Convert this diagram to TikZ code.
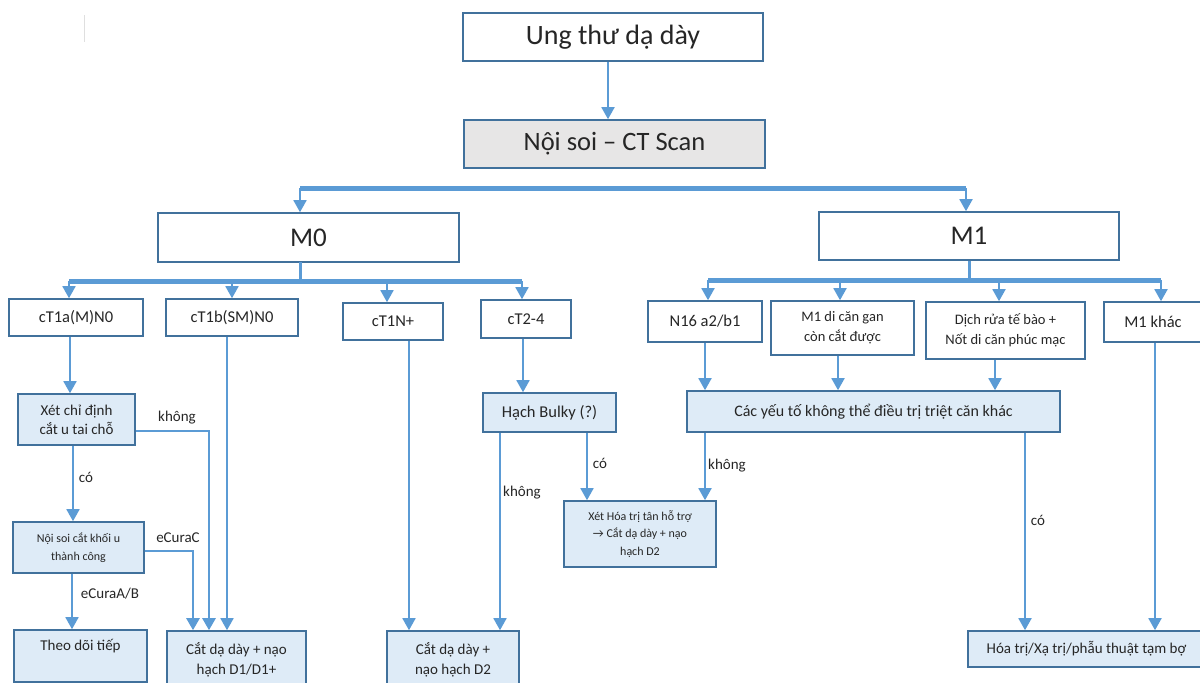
\documentclass[tikz,border=0pt]{standalone}
\usepackage{fontspec}
\setmainfont{Carlito}
\usetikzlibrary{arrows.meta}
\definecolor{edgeblue}{HTML}{41719C}
\definecolor{arrowblue}{HTML}{5B9BD5}
\definecolor{fillblue}{HTML}{DEEBF7}
\definecolor{fillgray}{HTML}{E7E6E6}
\definecolor{txt}{HTML}{262626}
\begin{document}
\begin{tikzpicture}[x=1pt,y=-1pt,
  box/.style={draw=edgeblue,line width=1.6pt,fill=white,text=txt,align=center,inner sep=2pt},
  stepbox/.style={box,fill=fillblue},
  arr/.style={draw=arrowblue,line width=1.8pt,-{Triangle[width=13pt,length=12pt]}},
  bus/.style={draw=arrowblue,line width=5pt},
  lbl/.style={text=txt,font=\fontsize{15}{18}\selectfont}]
\useasboundingbox (0,0) rectangle (1200,683);
\draw[gray!25,line width=0.6pt] (84,15) -- (84,42);

% top
\node[box,minimum width=300pt,minimum height=48pt,font=\fontsize{28}{32}\selectfont] (ung) at (613,37) {Ung thư dạ dày};
\node[box,fill=fillgray,minimum width=301pt,minimum height=48pt,font=\fontsize{26.5}{30}\selectfont] (noisoi) at (614.5,144) {Nội soi – CT Scan};
\node[box,minimum width=301pt,minimum height=49pt,font=\fontsize{27}{32}\selectfont] (M0) at (308.5,237.5) {M0};
\node[box,minimum width=300pt,minimum height=48pt,font=\fontsize{27}{32}\selectfont] (M1) at (969,236) {M1};

% M0 branch
\node[box,minimum width=134pt,minimum height=37pt,font=\fontsize{16.5}{20}\selectfont] (cT1a) at (76,317.5) {cT1a(M)N0};
\node[box,minimum width=132pt,minimum height=37pt,font=\fontsize{16.5}{20}\selectfont] (cT1b) at (232,317.5) {cT1b(SM)N0};
\node[box,minimum width=100pt,minimum height=37pt,font=\fontsize{16.5}{20}\selectfont] (cT1N) at (393,321.5) {cT1N+};
\node[box,minimum width=90pt,minimum height=38pt,font=\fontsize{16.5}{20}\selectfont] (cT24) at (526,319) {cT2-4};
\node[stepbox,minimum width=117pt,minimum height=51pt,font=\fontsize{15}{19}\selectfont] (xetcd) at (76.5,419.5) {Xét chỉ định\\cắt u tai chỗ};
\node[stepbox,minimum width=131pt,minimum height=51pt,font=\fontsize{12}{18}\selectfont] (noisoicat) at (78.5,547.5) {Nội soi cắt khối u\\thành công};
\node[stepbox,minimum width=133pt,minimum height=52pt,text depth=22pt,font=\fontsize{15}{19}\selectfont] (theodoi) at (80.5,656) {Theo dõi tiếp};
\node[stepbox,minimum width=139pt,minimum height=58pt,font=\fontsize{15}{20}\selectfont] (catD1) at (236.5,660) {Cắt dạ dày + nạo\\hạch D1/D1+};
\node[stepbox,minimum width=132pt,minimum height=58pt,font=\fontsize{15}{20}\selectfont] (catD2) at (453,660) {Cắt dạ dày +\\nạo hạch D2};
\node[stepbox,minimum width=133pt,minimum height=39pt,font=\fontsize{16.5}{20}\selectfont] (hach) at (549.5,412.5) {Hạch Bulky (?)};
\node[stepbox,minimum width=152pt,minimum height=66pt,font=\fontsize{12}{17.5}\selectfont] (xethoa) at (640,534) {Xét Hóa trị tân hỗ trợ\\→ Cắt dạ dày + nạo\\hạch D2};

% M1 branch
\node[box,minimum width=114pt,minimum height=41pt,font=\fontsize{16.5}{20}\selectfont] (N16) at (705,321.5) {N16 a2/b1};
\node[box,minimum width=143pt,minimum height=54pt,font=\fontsize{14.5}{20}\selectfont] (M1gan) at (842.5,328) {M1 di căn gan\\còn cắt được};
\node[box,minimum width=159pt,minimum height=57pt,font=\fontsize{14.5}{20}\selectfont] (dichrua) at (1005.5,330.5) {Dịch rửa tế bào +\\Nốt di căn phúc mạc};
\node[box,minimum width=98pt,minimum height=40pt,font=\fontsize{16.5}{20}\selectfont] (M1khac) at (1153,322) {M1 khác};
\node[stepbox,minimum width=373pt,minimum height=41pt,font=\fontsize{16}{20}\selectfont] (cacyeuto) at (873.5,411.5) {Các yếu tố không thể điều trị triệt căn khác};
\node[stepbox,minimum width=237pt,minimum height=36pt,font=\fontsize{15}{19}\selectfont] (hoatri) at (1086.5,649) {Hóa trị/Xạ trị/phẫu thuật tạm bợ};

% lanes
\coordinate (x0) at (608,0);
\coordinate (xa) at (70,0);
\coordinate (xb) at (73,0);
\coordinate (xc) at (72,0);
\coordinate (xd) at (209,0);
\coordinate (xe) at (227,0);
\coordinate (xf) at (193,0);
\coordinate (xg) at (409,0);
\coordinate (xh) at (523,0);
\coordinate (xi) at (500,0);
\coordinate (xj) at (587,0);
\coordinate (xk) at (705,0);
\coordinate (xl) at (838,0);
\coordinate (xm) at (995,0);
\coordinate (xn) at (1025,0);
\coordinate (xo) at (1155,0);
\coordinate (yk) at (0,431);
\coordinate (ye) at (0,551);

% buses
\draw[arr] (ung.south -| x0) -- (noisoi.north -| x0);
\coordinate (t0) at (300,188);
\coordinate (t1) at (966,188);
\draw[bus] (t0) -- (t1);
\draw[arr] (t0) -- (t0 |- M0.north);
\draw[arr] (t1) -- (t1 |- M1.north);

\coordinate (a1) at (69,281);
\coordinate (a2) at (232,281);
\coordinate (a3) at (387,281);
\coordinate (a4) at (522,281);
\draw[draw=arrowblue,line width=3pt] (a1 -| t0) ++(0,-19) -- (a1 -| t0);
\draw[bus] (a1) -- (a4);
\draw[arr] (a1) -- (a1 |- cT1a.north);
\draw[arr] (a2) -- (a2 |- cT1b.north);
\draw[arr] (a3) -- (a3 |- cT1N.north);
\draw[arr] (a4) -- (a4 |- cT24.north);

\coordinate (b1) at (708,280);
\coordinate (b2) at (840,280);
\coordinate (b3) at (999,280);
\coordinate (b4) at (1161,280);
\draw[draw=arrowblue,line width=3pt] (M1.south) -- (M1.south |- b1);
\draw[bus] (b1) -- (b4);
\draw[arr] (b1) -- (b1 |- N16.north);
\draw[arr] (b2) -- (b2 |- M1gan.north);
\draw[arr] (b3) -- (b3 |- dichrua.north);
\draw[arr] (b4) -- (b4 |- M1khac.north);

% M0 flow
\draw[arr] (cT1a.south -| xa) -- (xetcd.north -| xa);
\draw[arr] (xetcd.south -| xb) -- (noisoicat.north -| xb);
\draw[arr] (noisoicat.south -| xc) -- (theodoi.north -| xc);
\draw[arr,line width=2.5pt] (xetcd.east |- yk) -- (xd |- yk) -- (catD1.north -| xd);
\draw[arr] (cT1b.south -| xe) -- (catD1.north -| xe);
\draw[arr,line width=2.5pt] (noisoicat.east |- ye) -- (xf |- ye) -- (catD1.north -| xf);
\draw[arr] (cT1N.south -| xg) -- (catD2.north -| xg);
\draw[arr] (cT24.south -| xh) -- (hach.north -| xh);
\draw[arr] (hach.south -| xi) -- (catD2.north -| xi);
\draw[arr] (hach.south -| xj) -- (xethoa.north -| xj);

% M1 flow
\draw[arr] (N16.south -| xk) -- (cacyeuto.north -| xk);
\draw[arr] (M1gan.south -| xl) -- (cacyeuto.north -| xl);
\draw[arr] (dichrua.south -| xm) -- (cacyeuto.north -| xm);
\draw[arr] (cacyeuto.south -| xk) -- (xethoa.north -| xk);
\draw[arr] (cacyeuto.south -| xn) -- (hoatri.north -| xn);
\draw[arr] (M1khac.south -| xo) -- (hoatri.north -| xo);

% labels
\node[lbl] (k1) at (177,418) {không};
\node[lbl] (c1) at (86,477) {có};
\node[lbl] (e1) at (178,538) {eCuraC};
\node[lbl] (e2) at (110,594) {eCuraA/B};
\node[lbl] (k2) at (522,493) {không};
\node[lbl] (c2) at (600,463) {có};
\node[lbl] (k3) at (727,466) {không};
\node[lbl] (c3) at (1038,520) {có};
\end{tikzpicture}
\end{document}
